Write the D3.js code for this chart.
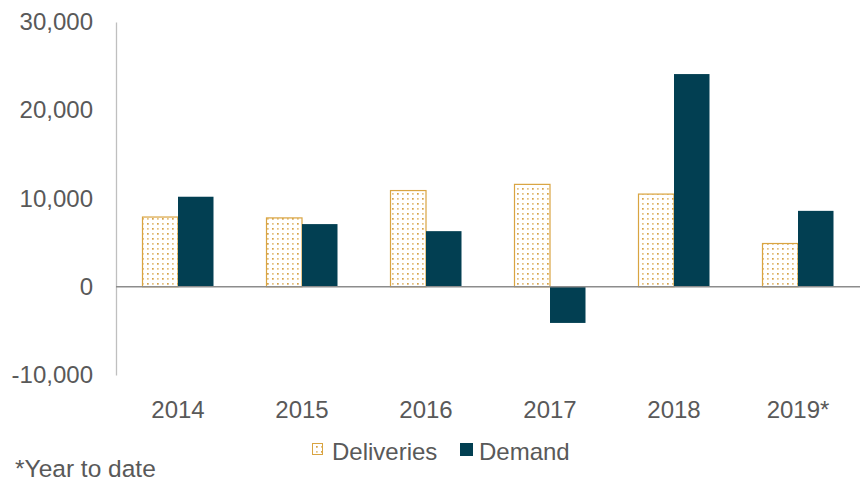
<!DOCTYPE html>
<html>
<head>
<meta charset="utf-8">
<script src="https://cdn.jsdelivr.net/npm/d3@7"></script>
<style>
  body { margin: 0; background: #fff; }
  text { font-family: "Liberation Sans", Arial, sans-serif; }
</style>
</head>
<body>
<div id="chart"></div>
<script>
// data
var years = ["2014", "2015", "2016", "2017", "2018", "2019*"];
var deliveries = [7900, 7800, 10900, 11600, 10500, 4900];
var demand = [10200, 7100, 6300, -4100, 24100, 8600];
var yTicks = [-10000, 0, 10000, 20000, 30000];
var seriesNames = ["Deliveries", "Demand"];

var width = 866, height = 483;
var margin = {top: 22, right: 6, bottom: 108, left: 116};
var innerW = width - margin.left - margin.right,
    innerH = height - margin.top - margin.bottom;

var svg = d3.select("#chart")
  .append("svg")
    .attr("width", width)
    .attr("height", height);

// dotted fill for deliveries
var defs = svg.append("defs");
var pat = defs.append("pattern")
    .attr("id", "dots")
    .attr("patternUnits", "userSpaceOnUse")
    .attr("width", 10)
    .attr("height", 10);
pat.append("rect").attr("width", 10).attr("height", 10).attr("fill", "#fff");
[[1, 1, "#d6a247"], [6, 1, "#e4c180"], [1, 6, "#e4c180"], [6, 6, "#d6a247"]].forEach(function(p) {
  pat.append("rect").attr("x", p[0]).attr("y", p[1]).attr("width", 1.7).attr("height", 1.7).attr("fill", p[2]);
});

var g = svg.append("g")
    .attr("transform", "translate(" + margin.left + "," + margin.top + ")");

var y = d3.scaleLinear()
  .domain([-10000, 30000])
  .range([innerH, 0]);

var x = d3.scaleBand()
  .domain(years)
  .range([0, innerW])
  .paddingInner(0)
  .paddingOuter(0);

var sub = d3.scaleBand()
  .domain(seriesNames)
  .range([0, 71]);

var barOffset = (x.bandwidth() - 71) / 2;

var fmt = d3.formatLocale({decimal: ".", thousands: ",", grouping: [3], currency: ["", ""], minus: "-"}).format(",");

// y axis
var yAxis = g.append("g")
  .call(d3.axisLeft(y).tickValues(yTicks).tickSize(0).tickPadding(23).tickFormat(fmt));
yAxis.select(".domain").attr("stroke", "#bfbfbf").attr("stroke-width", 1.3);
yAxis.selectAll("text")
  .attr("font-size", "24px")
  .attr("fill", "#595959")
  .attr("font-family", "'Liberation Sans', Arial, sans-serif");

// deliveries bars
g.selectAll(".del")
  .data(years)
  .enter()
  .append("rect")
    .attr("class", "del")
    .attr("x", function(d) { return x(d) + barOffset + sub("Deliveries"); })
    .attr("width", sub.bandwidth())
    .attr("y", function(d, i) { return y(Math.max(0, deliveries[i])); })
    .attr("height", function(d, i) { return Math.abs(y(deliveries[i]) - y(0)); })
    .attr("fill", "url(#dots)")
    .attr("stroke", "#d9a441")
    .attr("stroke-width", 1.2);

// demand bars
g.selectAll(".dem")
  .data(years)
  .enter()
  .append("rect")
    .attr("class", "dem")
    .attr("x", function(d) { return x(d) + barOffset + sub("Demand"); })
    .attr("width", sub.bandwidth())
    .attr("y", function(d, i) { return y(Math.max(0, demand[i])); })
    .attr("height", function(d, i) { return Math.abs(y(demand[i]) - y(0)); })
    .attr("fill", "#023f52");

// zero line
g.append("line")
  .attr("x1", 0)
  .attr("x2", innerW)
  .attr("y1", y(0))
  .attr("y2", y(0))
  .attr("stroke", "#8c8c8c")
  .attr("stroke-width", 1.3);

// category labels
g.selectAll(".xlab")
  .data(years)
  .enter()
  .append("text")
    .attr("class", "xlab")
    .attr("x", function(d) { return x(d) + x.bandwidth() / 2; })
    .attr("y", innerH + 43)
    .attr("text-anchor", "middle")
    .attr("font-size", "24px")
    .attr("fill", "#595959")
    .text(function(d) { return d; });

// legend
var legend = svg.append("g");
legend.append("rect")
  .attr("x", 312.5).attr("y", 443.5).attr("width", 10).attr("height", 11)
  .attr("fill", "url(#dots)").attr("stroke", "#d9a441").attr("stroke-width", 1);
legend.append("text")
  .attr("x", 332).attr("y", 460)
  .attr("font-size", "24px").attr("fill", "#595959")
  .text(seriesNames[0]);
legend.append("rect")
  .attr("x", 460).attr("y", 443).attr("width", 13).attr("height", 13)
  .attr("fill", "#023f52");
legend.append("text")
  .attr("x", 479).attr("y", 460)
  .attr("font-size", "24px").attr("fill", "#595959")
  .text(seriesNames[1]);

// footnote
svg.append("text")
  .attr("x", 15).attr("y", 477)
  .attr("font-size", "24.5px").attr("fill", "#595959")
  .text("*Year to date");
</script>
</body>
</html>
